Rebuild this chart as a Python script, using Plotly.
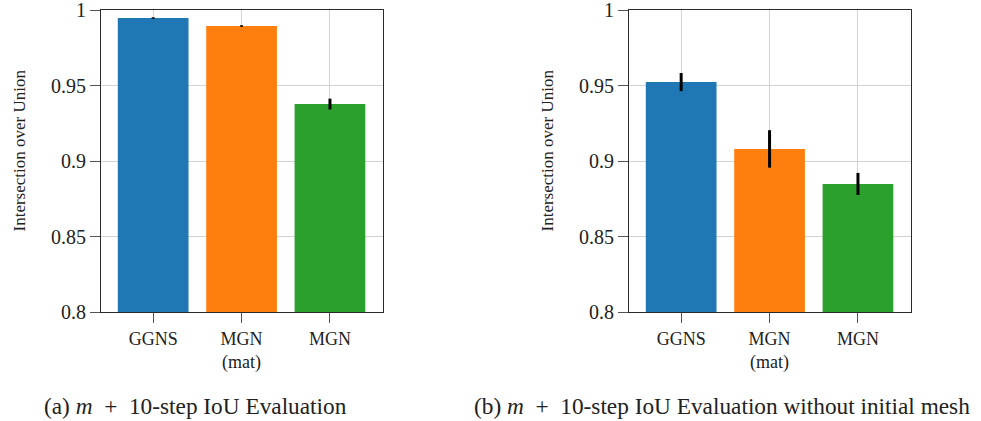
import plotly.graph_objects as go

categories = ["GGNS", "MGN (mat)", "MGN"]
tick_labels = ["GGNS", "MGN<br>(mat)", "MGN"]
colors = ["#1f77b4", "#ff7f0e", "#2ca02c"]

iou_a = [0.9947, 0.9894, 0.9377]
err_a = [0.0005, 0.0005, 0.0036]

iou_b = [0.9523, 0.9080, 0.8848]
err_b = [0.0060, 0.0124, 0.0073]

y_ticks = [0.8, 0.85, 0.9, 0.95, 1.0]
y_ticktext = ["0.8", "0.85", "0.9", "0.95", "1"]

caption_a = "(a) <i>m</i>  +  10-step IoU Evaluation"
caption_b = "(b) <i>m</i>  +  10-step IoU Evaluation without initial mesh"
y_title = "Intersection over Union"

FONT = "Liberation Serif"
W, H = 981, 421

fig = go.Figure()
xs = list(range(len(categories)))
for vals, errs, xa, ya in [(iou_a, err_a, "x", "y"), (iou_b, err_b, "x2", "y2")]:
    fig.add_trace(go.Bar(
        x=xs, y=vals, width=0.8,
        marker=dict(color=colors, line=dict(width=0)),
        error_y=dict(type="data", array=errs, visible=True, color="black",
                     thickness=3, width=0),
        xaxis=xa, yaxis=ya, showlegend=False,
    ))

def px_x(p):
    return p / W

def px_y(p):
    return 1 - p / H

dom_y = [px_y(312), px_y(10)]
dom_xa = [px_x(101), px_x(383)]
dom_xb = [px_x(629), px_x(911)]

xaxis_common = dict(
    tickmode="array", tickvals=xs, ticktext=tick_labels,
    range=[-0.59, 2.6], showgrid=True, gridcolor="#d3d3d3", gridwidth=1,
    showline=True, linecolor="#2b2b2b", linewidth=1.2, mirror=True,
    ticks="outside", ticklen=10, tickcolor="#555555", tickwidth=1,
    tickfont=dict(family=FONT, size=18, color="#222222"),
    zeroline=False, fixedrange=True, automargin=False,
    ticklabeloverflow="allow",
)
yaxis_common = dict(
    tickmode="array", tickvals=y_ticks, ticktext=y_ticktext,
    range=[0.8, 1.0], showgrid=True, gridcolor="#d3d3d3", gridwidth=1,
    showline=True, linecolor="#2b2b2b", linewidth=1.2, mirror=True,
    ticks="outside", ticklen=10, tickcolor="#555555", tickwidth=1,
    tickfont=dict(family=FONT, size=20, color="#222222"),
    zeroline=False, fixedrange=True, automargin=False,
    ticklabeloverflow="allow",
)

fig.update_layout(
    width=W, height=H,
    margin=dict(l=0, r=0, t=0, b=0),
    paper_bgcolor="white", plot_bgcolor="white",
    bargap=0.2,
    xaxis=dict(domain=dom_xa, anchor="y", **xaxis_common),
    yaxis=dict(domain=dom_y, anchor="x", **yaxis_common),
    xaxis2=dict(domain=dom_xb, anchor="y2", **xaxis_common),
    yaxis2=dict(domain=dom_y, anchor="x2", **yaxis_common),
    font=dict(family=FONT, color="#222222"),
)

annos = [
    dict(text=y_title, x=px_x(18.5), y=px_y(151), textangle=-90),
    dict(text=y_title, x=px_x(546.5), y=px_y(151), textangle=-90),
]
for a in annos:
    fig.add_annotation(xref="paper", yref="paper", xanchor="center", yanchor="middle",
                       showarrow=False, font=dict(family=FONT, size=17, color="#222222"), **a)

fig.add_annotation(text=caption_a, xref="paper", yref="paper", x=px_x(195), y=px_y(406),
                   xanchor="center", yanchor="middle", showarrow=False,
                   font=dict(family=FONT, size=23.3, color="#222222"))
fig.add_annotation(text=caption_b, xref="paper", yref="paper", x=px_x(722), y=px_y(406),
                   xanchor="center", yanchor="middle", showarrow=False,
                   font=dict(family=FONT, size=23.3, color="#222222"))

fig.write_html("out.html", config={"displayModeBar": False},
               post_script="document.body.style.margin='0';")
